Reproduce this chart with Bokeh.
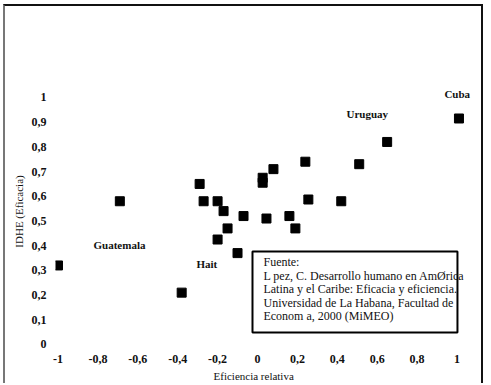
from bokeh.plotting import figure
from bokeh.models import FixedTicker, CustomJSTickFormatter, Title
from bokeh.core.properties import value
from bokeh.embed import file_html
from bokeh.resources import INLINE

# Data (x: Eficiencia relativa, y: IDHE)
eficiencia = [-1.0, -0.69, -0.38, -0.29, -0.27, -0.20, -0.20, -0.17, -0.15, -0.10, -0.07,
              0.026, 0.026, 0.045, 0.08, 0.16, 0.19, 0.24, 0.255, 0.42, 0.51, 0.65, 1.01]
idhe = [0.32, 0.58, 0.21, 0.65, 0.58, 0.58, 0.425, 0.54, 0.47, 0.37, 0.52,
        0.675, 0.655, 0.51, 0.71, 0.52, 0.47, 0.74, 0.587, 0.58, 0.73, 0.82, 0.915]

x_ticks = [-1, -0.8, -0.6, -0.4, -0.2, 0, 0.2, 0.4, 0.6, 0.8, 1]
y_ticks = [0, 0.1, 0.2, 0.3, 0.4, 0.5, 0.6, 0.7, 0.8, 0.9, 1]

x_title = "Eficiencia relativa"
y_title = "IDHE (Eficacia)"
country_names = ["Guatemala", "Hait", "Uruguay", "Cuba"]
note_lines = [
    "Fuente:",
    "L  pez, C. Desarrollo humano en Am\u00d8rica",
    "Latina y el Caribe: Eficacia y eficiencia.",
    "Universidad de La Habana, Facultad de",
    "Econom  a, 2000 (MiMEO)",
]

SERIF = "Liberation Serif"

p = figure(width=480, height=379, output_backend="svg", toolbar_location=None,
           x_range=(-1.0125, 1.128), y_range=(-0.0162, 1.0931),
           min_border_left=50, min_border_right=3, min_border_top=68, min_border_bottom=37)
p.styles = {"margin-left": "3px", "margin-top": "4px",
            "border-top": "2px solid #111", "border-left": "2px solid #777",
            "border-right": "2px solid #111"}

p.outline_line_color = None
p.grid.visible = False
p.background_fill_color = "white"
p.border_fill_color = "white"

fmt = CustomJSTickFormatter(code="""
    if (Math.abs(tick - Math.round(tick)) < 1e-9) { return String(Math.round(tick)); }
    return tick.toFixed(1).replace('.', ',');
""")

for ax, ticks in ((p.xaxis, x_ticks), (p.yaxis, y_ticks)):
    ax.ticker = FixedTicker(ticks=ticks)
    ax.formatter = fmt
    ax.axis_line_color = None
    ax.major_tick_line_color = None
    ax.minor_tick_line_color = None
    ax.major_label_text_font = SERIF
    ax.major_label_text_font_size = "12px"
    ax.major_label_text_font_style = "bold"
    ax.major_label_text_color = "#111"
    ax.axis_label_text_font = SERIF
    ax.axis_label_text_font_size = "11px"
    ax.axis_label_text_font_style = "normal"
    ax.axis_label_text_color = "#111"

p.yaxis.axis_label = y_title
p.xaxis.major_label_standoff = 0
p.yaxis.major_label_standoff = 3
p.yaxis.axis_label_standoff = 4

# x-axis title, placed left of the frame centre as in the original
p.add_layout(Title(text=x_title, align="left", offset=158, standoff=4,
                   text_font=SERIF, text_font_size="11px", text_font_style="normal",
                   text_color="#111"), "below")

p.scatter(eficiencia, idhe, marker="square", size=9, fill_color="black", line_color="black")

# country labels
lab_x = [-0.822, -0.306, 0.446, 0.937]
lab_y = [0.401, 0.324, 0.935, 1.016]
p.text(lab_x, lab_y, text=country_names, text_font=value(SERIF), text_font_size="11px",
       text_font_style="bold", text_baseline="middle", text_align="left", text_color="#111")

# source note box
p.quad(left=[-0.025], right=[1.0025], bottom=[0.0486], top=[0.3765],
       fill_color="white", line_color="black", line_width=2)
note_y = [0.332 - i * 0.0545 for i in range(len(note_lines))]
p.text([0.03] * len(note_lines), note_y, text=note_lines, text_font=value(SERIF),
       text_font_size="12px", text_baseline="middle", text_align="left", text_color="#111")

open("out.html", "w").write(file_html(p, INLINE))
